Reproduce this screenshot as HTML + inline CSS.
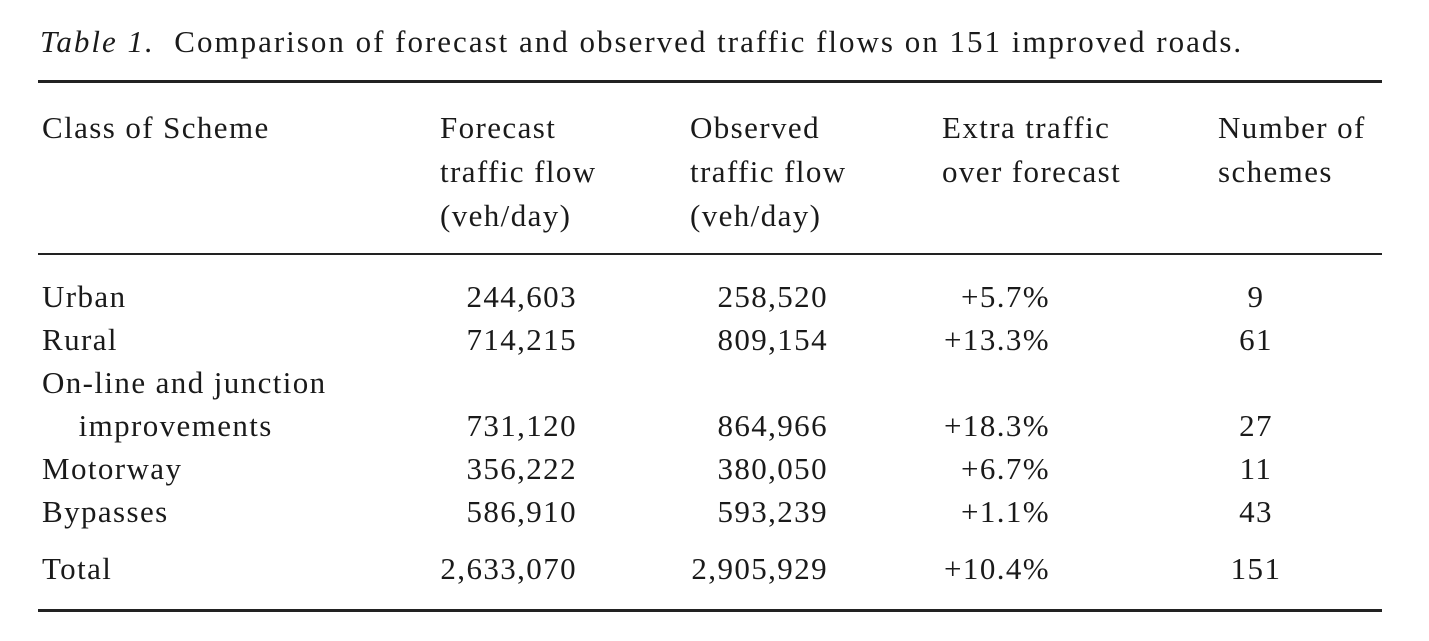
<!DOCTYPE html>
<html><head><meta charset="utf-8"><style>
html,body{margin:0;padding:0;background:#fff;}
body{width:1429px;height:641px;position:relative;overflow:hidden;font-family:"Liberation Serif",serif;font-size:31px;color:#1a1a1a;letter-spacing:1.4px;}
.t{position:absolute;line-height:34px;white-space:nowrap;}
.r{text-align:right;}
.rule{position:absolute;left:38px;width:1344px;background:#222;}
</style></head><body>
<div class="t" style="left:40px;top:25px;letter-spacing:2px;"><i>Table 1.</i>&nbsp; Comparison of forecast and observed traffic flows on 151 improved roads.</div>
<div class="rule" style="top:80px;height:3px;"></div>
<div class="t" style="left:42px;top:106px;line-height:44px;">Class of Scheme</div>
<div class="t" style="left:440px;top:106px;line-height:44px;">Forecast<br>traffic flow<br>(veh/day)</div>
<div class="t" style="left:690px;top:106px;line-height:44px;">Observed<br>traffic flow<br>(veh/day)</div>
<div class="t" style="left:942px;top:106px;line-height:44px;">Extra traffic<br>over forecast</div>
<div class="t" style="left:1218px;top:106px;line-height:44px;">Number of<br>schemes</div>
<div class="rule" style="top:253px;height:2px;"></div>

<div class="t" style="left:42px;top:275px;line-height:43px;">Urban<br>Rural<br>On-line and junction<br>&nbsp;&nbsp;&nbsp;&nbsp;improvements<br>Motorway<br>Bypasses</div>
<div class="t r" style="right:852px;top:275px;line-height:43px;">244,603<br>714,215<br>&nbsp;<br>731,120<br>356,222<br>586,910</div>
<div class="t r" style="right:601px;top:275px;line-height:43px;">258,520<br>809,154<br>&nbsp;<br>864,966<br>380,050<br>593,239</div>
<div class="t r" style="right:379px;top:275px;line-height:43px;">+5.7%<br>+13.3%<br>&nbsp;<br>+18.3%<br>+6.7%<br>+1.1%</div>
<div class="t" style="left:1200px;width:112px;text-align:center;top:275px;line-height:43px;">9<br>61<br>&nbsp;<br>27<br>11<br>43</div>

<div class="t" style="left:42px;top:552px;">Total</div>
<div class="t r" style="right:852px;top:552px;">2,633,070</div>
<div class="t r" style="right:601px;top:552px;">2,905,929</div>
<div class="t r" style="right:379px;top:552px;">+10.4%</div>
<div class="t" style="left:1200px;width:112px;text-align:center;top:552px;">151</div>
<div class="rule" style="top:609px;height:3px;"></div>
</body></html>
